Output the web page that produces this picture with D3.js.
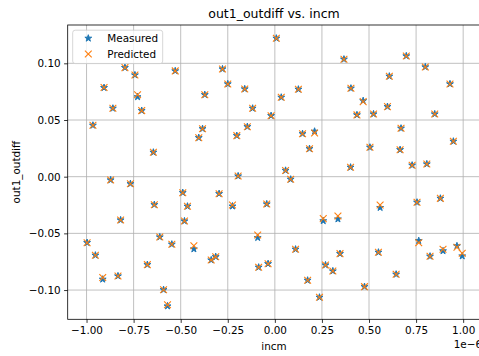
<!DOCTYPE html>
<html>
<head>
<meta charset="utf-8">
<script src="https://cdn.jsdelivr.net/npm/d3@7"></script>
<style>
  html, body { margin: 0; padding: 0; background: #fff; overflow: hidden; }
  svg { display: block; font-family: "DejaVu Sans", sans-serif; }
</style>
</head>
<body>
<svg id="chart" width="479" height="356"></svg>
<script>
// incm sweep (in units of 1e-6) with measured and predicted out1_outdiff
const incm = [
  -0.796, -0.743, -0.529, -0.907, -0.729, -0.860, -0.707, -0.966, -0.384, -0.404,
  -0.645, 0.008, -0.278, -0.250, -0.372, -0.160, 0.034, 0.125, -0.118, -0.020,
  -0.202, -0.146, 0.147, 0.211, 0.184, 0.057, 0.367, 0.698, 0.799, 0.608,
  0.930, 0.404, 0.469, 0.598, 0.436, 0.524, 0.849, 0.670, 0.948, 0.505,
  0.665, 0.402, 0.729, 0.807, -0.872, -0.767, -0.489, -0.640, -0.464, -0.819,
  -0.480, -0.997, -0.611, -0.547, -0.430, -0.953, -0.677, -0.914, -0.833, -0.591,
  -0.570, -0.195, 0.084, -0.296, -0.225, -0.043, 0.257, 0.335, -0.091, -0.338,
  -0.314, 0.110, -0.086, -0.036, 0.269, 0.308, 0.174, 0.237, 0.346, 0.559,
  0.755, 0.879, 0.764, 0.550, 0.824, 0.893, 0.967, 0.995, 0.644, 0.476
].map(v => v * 1e-6);

const measured = [
  0.0962, 0.0897, 0.0933, 0.0785, 0.0704, 0.0603, 0.0583, 0.0453, 0.0423, 0.0344,
  0.0215, 0.1221, 0.0950, 0.0818, 0.0723, 0.0774, 0.0700, 0.0771, 0.0603, 0.0538,
  0.0362, 0.0441, 0.0379, 0.0400, 0.0247, 0.0055, 0.1036, 0.1065, 0.0968, 0.0886,
  0.0818, 0.0780, 0.0670, 0.0618, 0.0545, 0.0553, 0.0553, 0.0427, 0.0312, 0.0259,
  0.0238, 0.0083, 0.0101, 0.0112, -0.0029, -0.0062, -0.0141, -0.0247, -0.0261, -0.0382,
  -0.0391, -0.0582, -0.0532, -0.0596, -0.0638, -0.0693, -0.0776, -0.0905, -0.0876, -0.0997,
  -0.1141, 0.0006, -0.0023, -0.0150, -0.0260, -0.0241, -0.0390, -0.0374, -0.0538, -0.0735,
  -0.0706, -0.0640, -0.0799, -0.0768, -0.0779, -0.0832, -0.0914, -0.1064, -0.0679, -0.0273,
  -0.0226, -0.0191, -0.0565, -0.0667, -0.0702, -0.0655, -0.0611, -0.0700, -0.0861, -0.0970
];

const predicted = [
  0.0962, 0.0897, 0.0933, 0.0787, 0.0723, 0.0603, 0.0583, 0.0453, 0.0423, 0.0344,
  0.0215, 0.1221, 0.0950, 0.0818, 0.0723, 0.0774, 0.0700, 0.0771, 0.0603, 0.0538,
  0.0362, 0.0441, 0.0379, 0.0385, 0.0247, 0.0055, 0.1036, 0.1065, 0.0968, 0.0886,
  0.0818, 0.0780, 0.0662, 0.0618, 0.0545, 0.0553, 0.0553, 0.0427, 0.0312, 0.0259,
  0.0238, 0.0083, 0.0101, 0.0112, -0.0029, -0.0062, -0.0141, -0.0247, -0.0261, -0.0382,
  -0.0391, -0.0582, -0.0532, -0.0596, -0.0609, -0.0693, -0.0776, -0.0890, -0.0876, -0.0997,
  -0.1129, 0.0006, -0.0023, -0.0150, -0.0250, -0.0241, -0.0370, -0.0347, -0.0515, -0.0735,
  -0.0706, -0.0640, -0.0799, -0.0768, -0.0779, -0.0832, -0.0914, -0.1064, -0.0679, -0.0250,
  -0.0226, -0.0191, -0.0582, -0.0667, -0.0702, -0.0640, -0.0623, -0.0676, -0.0861, -0.0970
];

const xTicks = [-1.0e-6, -0.75e-6, -0.5e-6, -0.25e-6, 0, 0.25e-6, 0.5e-6, 0.75e-6, 1.0e-6];
const yTicks = [-0.10, -0.05, 0.00, 0.05, 0.10];

const svg = d3.select("#chart");
const box = { left: 67.7, right: 482, top: 25, bottom: 319.3 };

const x = d3.scaleLinear().domain([-1.1e-6, 1.1e-6]).range([box.left, box.right]);
const y = d3.scaleLinear().domain([-0.1258, 0.1338]).range([box.bottom, box.top]);

const minus = s => s.replace("-", "\u2212");
const fontSize = 10.4;

// grid
const grid = svg.append("g").attr("stroke", "#b0b0b0").attr("stroke-width", 0.8);
xTicks.forEach(t => grid.append("line")
  .attr("x1", x(t)).attr("x2", x(t)).attr("y1", box.top).attr("y2", box.bottom));
yTicks.forEach(t => grid.append("line")
  .attr("x1", box.left).attr("x2", box.right).attr("y1", y(t)).attr("y2", y(t)));

// axes
const xAxis = d3.axisBottom(x).tickValues(xTicks).tickSize(3.6).tickPadding(3.5)
  .tickFormat(d => minus(d3.format(".2f")(d / 1e-6)));
const yAxis = d3.axisLeft(y).tickValues(yTicks).tickSize(3.6).tickPadding(3.5)
  .tickFormat(d => minus(d3.format(".2f")(d)));

const gx = svg.append("g").attr("transform", `translate(0,${box.bottom})`).call(xAxis);
const gy = svg.append("g").attr("transform", `translate(${box.left},0)`).call(yAxis);
[gx, gy].forEach(g => {
  g.select(".domain").remove();
  g.selectAll("line").attr("stroke", "#000").attr("stroke-width", 0.8);
  g.selectAll("text").attr("fill", "#000").style("font-size", fontSize + "px")
    .style("font-family", "DejaVu Sans, sans-serif");
});

// spines
svg.append("rect")
  .attr("x", box.left).attr("y", box.top)
  .attr("width", box.right - box.left).attr("height", box.bottom - box.top)
  .attr("fill", "none").attr("stroke", "#000").attr("stroke-width", 0.8);

// star and cross marker paths
function starPath(r) {
  const ri = r * 0.381966;
  const pts = [];
  for (let i = 0; i < 10; i++) {
    const a = -Math.PI / 2 + i * Math.PI / 5;
    const rr = i % 2 === 0 ? r : ri;
    pts.push([rr * Math.cos(a), rr * Math.sin(a)]);
  }
  return "M" + pts.map(p => p.join(",")).join("L") + "Z";
}
const star = starPath(3.6);
const crossHalf = 3.4;
const cross = `M${-crossHalf},${-crossHalf}L${crossHalf},${crossHalf}M${-crossHalf},${crossHalf}L${crossHalf},${-crossHalf}`;

const blue = "#1f77b4", orange = "#ff7f0e";

const pts = svg.append("g");
pts.selectAll("path.measured").data(incm).join("path")
  .attr("class", "measured")
  .attr("transform", (d, i) => `translate(${x(d)},${y(measured[i])})`)
  .attr("d", star).attr("fill", blue).attr("stroke", blue)
  .attr("stroke-width", 1).attr("stroke-linejoin", "miter");

pts.selectAll("path.predicted").data(incm).join("path")
  .attr("class", "predicted")
  .attr("transform", (d, i) => `translate(${x(d)},${y(predicted[i])})`)
  .attr("d", cross).attr("fill", "none").attr("stroke", orange).attr("stroke-width", 1.1);

// legend
const lg = svg.append("g");
lg.append("rect").attr("x", 72.7).attr("y", 30.2).attr("width", 90).attr("height", 33.4)
  .attr("rx", 2.5).attr("fill", "#fff").attr("fill-opacity", 0.8)
  .attr("stroke", "#cccccc").attr("stroke-width", 0.8);
lg.append("path").attr("transform", "translate(88.3,38.3)").attr("d", star)
  .attr("fill", blue).attr("stroke", blue).attr("stroke-width", 1);
lg.append("path").attr("transform", "translate(88.3,54)").attr("d", cross)
  .attr("fill", "none").attr("stroke", orange).attr("stroke-width", 1.1);
lg.append("text").attr("x", 107.3).attr("y", 38.3).attr("dy", "0.35em")
  .style("font-size", fontSize + "px").text("Measured");
lg.append("text").attr("x", 107.3).attr("y", 54).attr("dy", "0.35em")
  .style("font-size", fontSize + "px").text("Predicted");

// labels
svg.append("text").attr("x", 274).attr("y", 18)
  .attr("text-anchor", "middle").style("font-size", "12.5px").text("out1_outdiff vs. incm");
svg.append("text").attr("x", 274).attr("y", 350)
  .attr("text-anchor", "middle").style("font-size", fontSize + "px").text("incm");
svg.append("text").attr("transform", `translate(20,${(box.top + box.bottom) / 2}) rotate(-90)`)
  .attr("text-anchor", "middle").style("font-size", fontSize + "px").text("out1_outdiff");
svg.append("text").attr("x", box.right).attr("y", 348)
  .attr("text-anchor", "end").style("font-size", fontSize + "px").text("1e\u22126");
</script>
</body>
</html>
